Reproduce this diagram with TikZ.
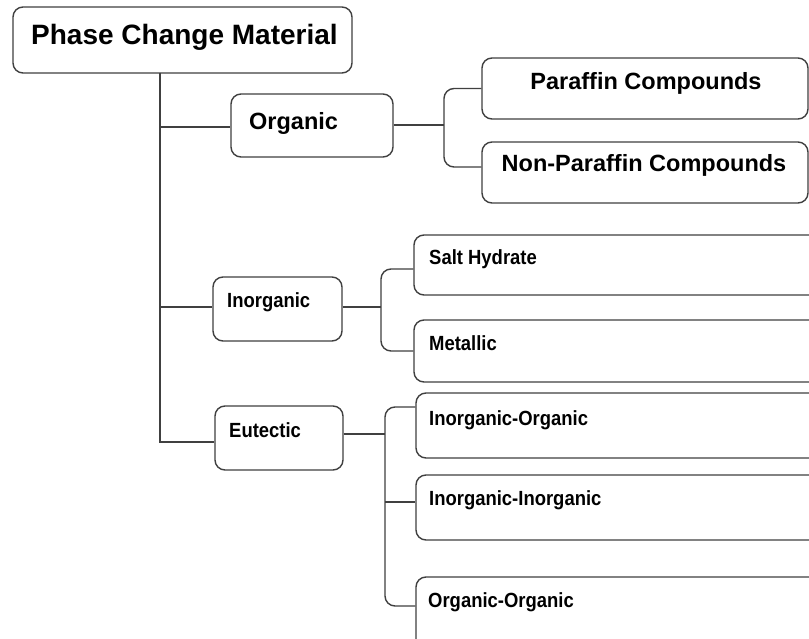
\documentclass[tikz,border=0pt]{standalone}
\usepackage{fontspec}
\setmainfont{Liberation Sans}
\newfontfamily\narrowfont[FakeStretch=0.9]{Liberation Sans}
\begin{document}
\begin{tikzpicture}[x=1pt,y=-1pt,
  box/.style={draw=black!75,line width=1.4pt,rounded corners=10pt,fill=white},
  conn/.style={draw=black!75,line width=1.4pt},
  brk/.style={draw=black!75,line width=1.4pt,rounded corners=10pt},
  titletxt/.style={inner sep=0pt,anchor=base west,font=\bfseries\fontsize{28}{32}\selectfont},
  uptxt/.style={inner sep=0pt,anchor=base,font=\bfseries\fontsize{23.5}{28}\selectfont},
  lowtxt/.style={inner sep=0pt,anchor=base west,font=\narrowfont\bfseries\fontsize{20.5}{24}\selectfont}]
\useasboundingbox (0,0) rectangle (809,639);
\clip (0,0) rectangle (809,639);
\fill[white] (0,0) rectangle (809,639);
% boxes
\path[box] (13,7) rectangle (352,73);
\node[inner sep=0pt,minimum size=0pt] (pcm) at (182.5,40) {};
\coordinate (pcmb) at (160,73);
\node[box,minimum width=162pt,minimum height=63pt] (org) at (312,125.5) {};
\node[box,minimum width=129pt,minimum height=64pt] (inorg) at (277.5,309) {};
\node[box,minimum width=128pt,minimum height=64pt] (eut) at (279,438) {};
\node[box,minimum width=326pt,minimum height=61pt] (par) at (645,88.5) {};
\node[box,minimum width=326pt,minimum height=61pt] (npar) at (645,172.5) {};
\node[box,minimum width=420pt,minimum height=60pt] (salt) at (624,265) {};
\node[box,minimum width=420pt,minimum height=62pt] (met) at (624,351) {};
\node[box,minimum width=420pt,minimum height=65pt] (io) at (626,425.5) {};
\node[box,minimum width=420pt,minimum height=65pt] (ii) at (626,507.5) {};
\node[box,minimum width=420pt,minimum height=83pt] (oo) at (626,618.5) {};
% texts
\node[titletxt] (t0) at (31,45) {Phase Change Material};
\node[inner sep=0pt,anchor=base west,font=\bfseries\fontsize{23.5}{28}\selectfont] (t1) at (249,130) {Organic};
\node[uptxt] (t2) at (646,90) {Paraffin Compounds};
\node[uptxt] (t3) at (644,172) {Non-Paraffin Compounds};
\node[lowtxt] (t4) at (227,307) {Inorganic};
\node[lowtxt] (t5) at (429,265) {Salt Hydrate};
\node[lowtxt] (t6) at (429,350) {Metallic};
\node[lowtxt] (t7) at (229,437) {Eutectic};
\node[lowtxt] (t8) at (429,425) {Inorganic-Organic};
\node[lowtxt] (t9) at (429,505) {Inorganic-Inorganic};
\node[lowtxt] (t10) at (428,607) {Organic-Organic};
% trunk
\coordinate (tr1) at (160,127);
\coordinate (tr2) at (160,307);
\coordinate (tr3) at (160,442);
\draw[conn] (pcmb) -- (tr3) -- (eut.west |- tr3);
\draw[conn] (tr1) -- (org.west |- tr1);
\draw[conn] (tr2) -- (inorg.west |- tr2);
% organic bracket
\coordinate (b1) at (444,125);
\draw[conn] (org.east |- b1) -- (b1);
\draw[brk] (par.west) -- (444,88.5) -- (444,167) -- (npar.west |- 0,167);
% inorganic bracket
\coordinate (b2) at (381,307);
\draw[conn] (inorg.east |- b2) -- (b2);
\draw[brk] (salt.west |- 0,269) -- (381,269) -- (381,351) -- (met.west);
% eutectic bracket
\coordinate (b3) at (385,434);
\draw[conn] (eut.east |- b3) -- (b3);
\draw[brk] (io.west |- 0,407) -- (385,407) -- (385,606) -- (oo.west |- 0,606);
\draw[conn] (385,502) -- (ii.west |- 0,502);
\end{tikzpicture}
\end{document}
